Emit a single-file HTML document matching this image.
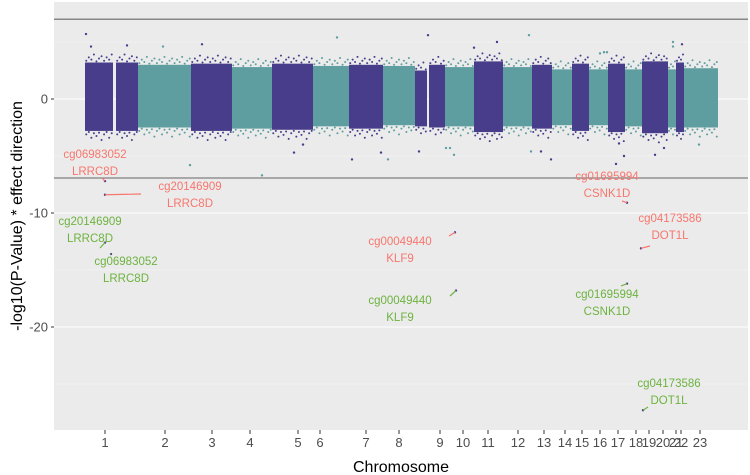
<!DOCTYPE html>
<html><head><meta charset="utf-8"><style>
body{margin:0;background:#fff;font-family:"Liberation Sans",sans-serif}
svg{display:block}
</style></head><body>
<svg id="c" width="750" height="475"></svg>
<script>
// genomic index units (0..694 across panel)
const bandStart=[31,62,84,137,178,218,259,295,329,361,375,391,420,449,478,498,518,535,554,571,588,614,622,630];
const bandEnd  =[59,84,137,178,218,259,295,329,361,373,391,420,449,478,498,518,535,554,571,588,614,622,630,664];
const bandColor=[0,0,1,0,1,0,1,0,1,0,0,1,0,1,0,1,0,1,0,1,0,1,0,1];
const bandTop=[3.2,3.2,3.0,3.1,2.8,3.1,2.9,3.0,2.9,2.5,3.0,2.8,3.3,2.8,3.0,2.6,3.1,2.6,3.1,2.6,3.3,2.6,3.2,2.7];
const bandLow=[-2.8,-2.8,-2.5,-2.8,-2.6,-2.7,-2.4,-2.6,-2.3,-2.4,-2.5,-2.4,-2.9,-2.4,-2.6,-2.3,-2.8,-2.3,-2.9,-2.4,-3.0,-2.5,-2.9,-2.5];
const outX=[32,37,73,109,148,136,208,283,240,249,298,334,327,396,400,374,443,497,475,477,550,562,553,619,619,628,601,570,610,565,365,392,420,487,546,645];
const outY=[5.7,4.6,4.7,4.6,4.8,-5.8,-6.7,5.4,-4.7,-4.0,-5.3,-5.3,-4.7,-4.3,-4.9,5.6,5.0,-5.3,5.6,-4.6,4.1,-5.7,4.1,4.6,5.0,4.8,-4.9,-5.0,-4.3,-3.9,-4.6,-4.3,4.5,-4.6,4.0,-4.0];
const hitX=[51,51,401,402,573,573,587,589,51,57];
const hitY=[-7.2,-8.4,-11.7,-16.8,-9.1,-16.2,-13.1,-27.3,-12.6,-13.6];
const hitCol=["r","r","r","g","r","g","r","g","g","g"];
const chrNames=["1","2","3","4","5","6","7","8","9","10","11","12","13","14","15","16","17","18","19","20","21","22","23"];
const chrTicks=[51,111,158,196,244,266,312,345,386,409,434,464,490,511,528,546,564,582,595,609,622,627,646];
const yTicks=[0,-10,-20];
const thresholds=[7,-6.93];

const L=54,R=748,T=2,B=430;
const x=v=>L+v;
const y=v=>99-v*11.4;
const S="http://www.w3.org/2000/svg";
const svg=document.getElementById('c');
function mk(t,a,p){const e=document.createElementNS(S,t);for(const k in a)e.setAttribute(k,a[k]);(p||svg).appendChild(e);return e;}
const col=["#483D8B","#5F9EA0"];
let bg=mk('rect',{x:L,y:T,width:R-L,height:B-T,fill:'#EBEBEB'});


[5,-5,-15,-25].forEach(v=>{let g=mk('line',{x1:L,x2:R,y1:y(v),y2:y(v),stroke:'#F5F5F5','stroke-width':0.6});

});
yTicks.forEach(v=>{let g=mk('line',{x1:L,x2:R,y1:y(v),y2:y(v),stroke:'#fff','stroke-width':1.1});


mk('line',{x1:L-3,x2:L,y1:y(v),y2:y(v),stroke:'#333'});
let t=mk('text',{x:L-6,y:y(v)+4.5,'text-anchor':'end','font-size':13,fill:'#4D4D4D'});t.textContent=v;

});
chrTicks.forEach((v,i)=>{mk('line',{x1:x(v),x2:x(v),y1:B,y2:B+4,stroke:'#333'});
let t=mk('text',{x:x(v),y:B+17,'text-anchor':'middle','font-size':13,fill:'#4D4D4D'});t.textContent=chrNames[i];

});
bandStart.forEach((s,i)=>{const c=col[bandColor[i]];
let r=mk('rect',{x:x(s),width:x(bandEnd[i])-x(s),y:y(bandTop[i]),height:y(bandLow[i])-y(bandTop[i]),fill:c});


const n=Math.max(4,Math.round((bandEnd[i]-s)/2.5));
for(let k=0;k<n;k++){const xx=s+(bandEnd[i]-s)*(k+0.5)/n;
const du=[0.15,0.45,0.25,0.7,0.1,0.35,0.55][k%7], dl=[0.3,0.1,0.6,0.2,0.45,0.15,0.8][k%7];
mk('circle',{cx:x(xx),cy:y(bandTop[i]+du),r:1,fill:c});
mk('circle',{cx:x(xx),cy:y(bandLow[i]-dl),r:1,fill:c});}});
outX.forEach((v,i)=>{let b=0;for(let j=0;j<bandStart.length;j++)if(v>=bandStart[j]&&v<=bandEnd[j])b=bandColor[j];
let c=mk('circle',{cx:x(v),cy:y(outY[i]),r:1.2,fill:col[b]});

});
thresholds.forEach(v=>{let l=mk('line',{x1:L,x2:R,y1:y(v),y2:y(v),stroke:'#666','stroke-width':1.1});

});
const RED="#F8766D",GRN="#6DB33F";
const labs=[[0,"cg06983052","LRRC8D",95,158,102,178],[1,"cg20146909","LRRC8D",190,190,141,194],
[8,"cg20146909","LRRC8D",90,225,100,248],[9,"cg06983052","LRRC8D",126,265,110,254],
[2,"cg00049440","KLF9",400,245,449,236],[3,"cg00049440","KLF9",400,304,450,296],
[4,"cg01695994","CSNK1D",607,180,622,201],[5,"cg01695994","CSNK1D",607,298,621,286],
[6,"cg04173586","DOT1L",670,222,650,246],[7,"cg04173586","DOT1L",669,387,648,407]];
labs.forEach(a=>{const i=a[0],c=hitCol[i]=="r"?RED:GRN;
let p=mk('circle',{cx:x(hitX[i]),cy:y(hitY[i]),r:1.2,fill:col[0]});


mk('line',{x1:x(hitX[i]),y1:y(hitY[i]),x2:a[5],y2:a[6],stroke:c,'stroke-width':1.2});
let t=mk('text',{x:a[3],y:a[4],'text-anchor':'middle','font-size':11.5,fill:c});t.textContent=a[1];


let t2=mk('text',{x:a[3],y:a[4]+17,'text-anchor':'middle','font-size':11.5,fill:c});t2.textContent=a[2];

});
let xt=mk('text',{x:401,y:472,'text-anchor':'middle','font-size':16,fill:'#000'});xt.textContent="Chromosome";


let yt=mk('text',{x:0,y:0,'text-anchor':'middle','font-size':16,fill:'#000',transform:'translate(22,216) rotate(-90)'});yt.textContent="-log10(P-Value) * effect direction";


</script>
</body></html>
